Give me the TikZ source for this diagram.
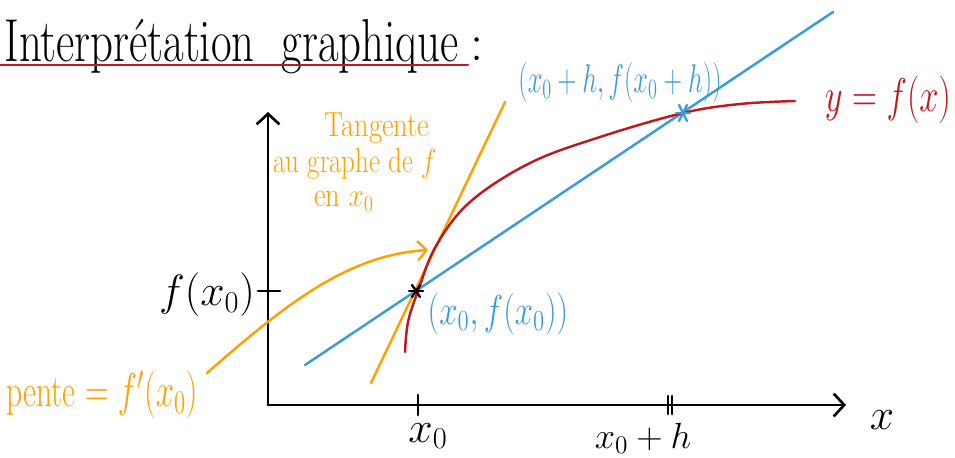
\documentclass[tikz,border=0pt]{standalone}
\usetikzlibrary{arrows.meta}
\definecolor{cred}{RGB}{190,25,30}
\definecolor{cblue}{RGB}{58,155,218}
\definecolor{corange}{RGB}{255,160,0}
\begin{document}
\begin{tikzpicture}[x=0.02cm,y=-0.02cm,line cap=round,line join=round,
  axis/.style={line width=1.6pt,black},
  barb/.style={-{Straight Barb[length=6pt,width=13pt,line width=1.5pt]}},
  obarb/.style={-{Straight Barb[length=5pt,width=11pt,line width=1.3pt]}},
  big/.style={font=\fontsize{24}{24}\selectfont},
  mid/.style={font=\fontsize{20}{22}\selectfont},
  small/.style={font=\fontsize{18}{20}\selectfont},
  star/.style={line width=1.3pt}]
\useasboundingbox (0,0) rectangle (955,457);
% title
\node[anchor=base west,inner sep=0pt] (title) at (4,61)
  {\fontsize{30}{30}\selectfont\scalebox{0.85}[1.15]{Interprétation\ \ graphique}};
\node[anchor=base west,inner sep=0pt] (colon) at (470,60) {\fontsize{30}{30}\selectfont :};
\coordinate (ulA) at (0,65);
\coordinate (ulB) at (468,65);
\draw[cred,line width=1.5pt] (ulA) -- (ulB);
% axes
\coordinate (O) at (268,405);
\coordinate (Ytop) at (268,112);
\coordinate (Xend) at (846,405);
\draw[axis,barb] (O) -- (Ytop);
\draw[axis,barb] (O) -- (Xend);
\node[big] (xlab) at (882,420) {$x$};
% ticks
\coordinate (t0a) at (418,395); \coordinate (t0b) at (418,415);
\draw[axis] (t0a) -- (t0b);
\coordinate (t1a) at (668,396); \coordinate (t1b) at (668,414);
\coordinate (t2a) at (672,396); \coordinate (t2b) at (672,414);
\draw[axis] (t1a) -- (t1b);
\draw[axis] (t2a) -- (t2b);
\coordinate (tya) at (258,291); \coordinate (tyb) at (280,291);
\draw[axis] (tya) -- (tyb);
\node[big] (x0lab) at (428,436) {$x_0$};
\node[mid,anchor=base] (xhlab) at (643,448) {$x_0+h$};
\node[big,anchor=east,inner sep=1pt] (fylab) at (257,295) {$f(x_0)$};
% lines
\coordinate (Bs) at (305,365); \coordinate (Be) at (833,12);
\draw[cblue,line width=1.4pt] (Bs) -- (Be);
\coordinate (Ts) at (371,383); \coordinate (Te) at (505,102);
\draw[corange,line width=1.4pt] (Ts) -- (Te);
% curve
\draw[cred,line width=1.4pt] plot[smooth,tension=0.6] coordinates
  {(405,352) (408,322) (418,291) (436,246) (470,202) (530,163) (600,137) (683,113) (740,104) (795,101)};
% points
\coordinate (P0) at (416,291);
\coordinate (P1) at (683,113);
\draw[star] ([shift={(-7,0)}]P0) -- ([shift={(7,0)}]P0);
\draw[star] ([shift={(-4,-6)}]P0) -- ([shift={(4,6)}]P0);
\draw[star] ([shift={(-4,6)}]P0) -- ([shift={(4,-6)}]P0);
\draw[star,cblue] ([shift={(-7,0)}]P1) -- ([shift={(7,0)}]P1);
\draw[star,cblue] ([shift={(-4,-8)}]P1) -- ([shift={(4,8)}]P1);
\draw[star,cblue] ([shift={(-4,8)}]P1) -- ([shift={(4,-8)}]P1);
% labels
\node[mid,text=cblue] (p1lab) at (620,82) {\scalebox{0.72}[1.1]{$(x_0+h, f(x_0+h))$}};
\node[mid,text=cblue] (p0lab) at (498,314) {\scalebox{0.9}[1.15]{$(x_0, f(x_0))$}};
\node[mid,text=cred,anchor=east,inner sep=1pt] (flab) at (953,100) {\scalebox{0.95}[1.3]{$y=f(x)$}};
\node[small,text=corange,inner sep=0pt] (tan1) at (377,128) {\scalebox{0.9}[1.1]{Tangente}};
\node[small,text=corange,inner sep=0pt] (tan2) at (355,164) {\scalebox{0.85}[1.1]{au graphe de $f$}};
\node[small,text=corange,inner sep=0pt] (tan3) at (344,201) {\scalebox{0.9}[1.1]{en $x_0$}};
\node[mid,text=corange,anchor=west,inner sep=0pt] (pente) at (6,395) {\scalebox{0.9}[1.3]{pente $=f'(x_0)$}};
% arrow
\coordinate (As) at (207,373);
\coordinate (Ae) at (428,250);
\draw[corange,line width=1.4pt,obarb] (As) .. controls (290,300) and (350,255) .. (Ae);
\end{tikzpicture}
\end{document}
